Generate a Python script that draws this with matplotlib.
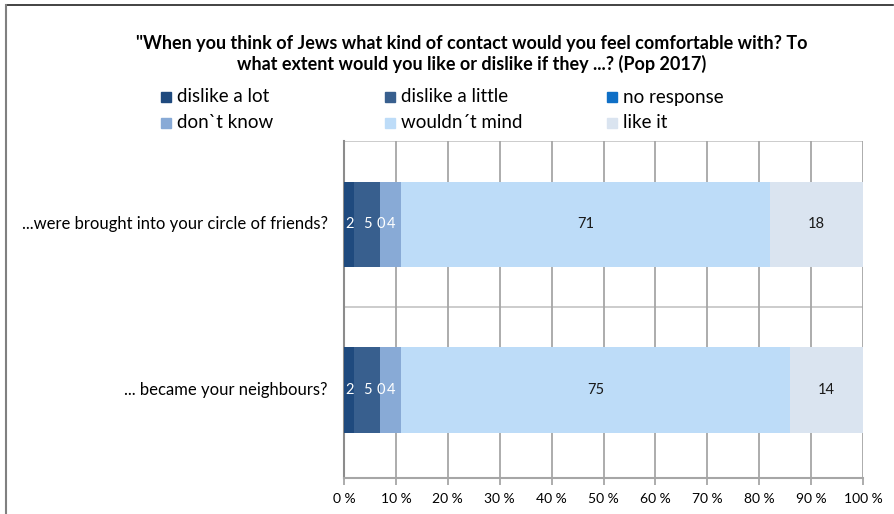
import numpy as np
import matplotlib.pyplot as plt
from matplotlib.patches import Rectangle
from matplotlib.lines import Line2D

plt.rcParams['font.family'] = ['Lato', 'DejaVu Sans']

# survey answers, percent per question
questions = ["...were brought into your circle of friends?",
             "... became your neighbours?"]
answers = ["dislike a lot", "dislike a little", "no response",
           "don`t know", "wouldn\u00b4t mind", "like it"]
dislike_a_lot = [2, 2]
dislike_a_little = [5, 5]
no_response = [0, 0]
dont_know = [4, 4]
wouldnt_mind = [71, 75]
like_it = [18, 14]

colors = ["#1f4a7e", "#385f8e", "#0f6fc6", "#88aad6", "#bddcf8", "#dae4f0"]
label_colors = ["white", "white", "white", "white", "#1a1a1a", "#1a1a1a"]

series = [dislike_a_lot, dislike_a_little, no_response, dont_know,
          wouldnt_mind, like_it]

fig = plt.figure(figsize=(8.94, 5.14), dpi=100)
ax = fig.add_axes([344 / 894, 36 / 514, 519 / 894, 337 / 514])

y = np.arange(len(questions))
left = np.zeros(len(questions))
for vals, col, lc in zip(series, colors, label_colors):
    vals = np.array(vals, dtype=float)
    ax.barh(y, vals, left=left, height=0.515, color=col, zorder=3)
    for yi, v, l in zip(y, vals, left):
        ax.text(l + v / 2, yi, f"{v:.0f}", ha="center", va="center",
                fontsize=10.5, color=lc, zorder=4)
    left += vals

ax.set_xlim(0, 100)
ax.set_ylim(1.532, -0.5045)
ax.set_xticks(np.arange(0, 101, 10))
ax.set_xticklabels([f"{t} %" for t in range(0, 101, 10)], fontsize=10)
ax.set_yticks([])
ax.grid(axis="x", color="#a6a6a6", linewidth=1.3, zorder=0)
ax.axhline(0.5, color="#c8c8c8", linewidth=1.3, zorder=0)
ax.axhline(-0.5045, color="#c8c8c8", linewidth=1.3, zorder=0)
for s in ["top", "right"]:
    ax.spines[s].set_visible(False)
ax.spines["left"].set_color("#8c8c8c")
ax.spines["left"].set_linewidth(1.5)
ax.spines["bottom"].set_color("#a6a6a6")
ax.spines["bottom"].set_linewidth(1.5)
ax.tick_params(axis="x", length=5, width=1.3, color="#a6a6a6", pad=6)

for yi, q in zip(y, questions):
    ax.text(-3.1, yi, q, ha="right", va="center", fontsize=12,
            transform=ax.transData, clip_on=False)

fig.text(0.528, 0.895, "\"When you think of Jews what kind of contact would you feel comfortable with? To\n"
         "what extent would you like or dislike if they ...? (Pop 2017)",
         ha="center", va="center", fontsize=13, fontweight="bold",
         linespacing=1.2)

# legend in two rows of three
legend_x = [166, 390, 612]
legend_y = [97, 123]
for i, (name, col) in enumerate(zip(answers, colors)):
    px = legend_x[i % 3]
    py = legend_y[i // 3]
    fig.patches.append(Rectangle(((px - 5) / 894, 1 - (py + 5) / 514),
                                 10 / 894, 10 / 514, color=col,
                                 transform=fig.transFigure))
    fig.text((px + 11) / 894, 1 - py / 514, name, ha="left", va="center",
             fontsize=13.5)

# outer frame
fig.add_artist(Line2D([6 / 894, 893 / 894], [1 - 5 / 514, 1 - 5 / 514],
                      color="#222222", linewidth=1.2, transform=fig.transFigure))
fig.add_artist(Line2D([6 / 894, 6 / 894], [0, 1 - 5 / 514],
                      color="#808080", linewidth=1.5, transform=fig.transFigure))

fig.savefig("out.png", dpi=100)
